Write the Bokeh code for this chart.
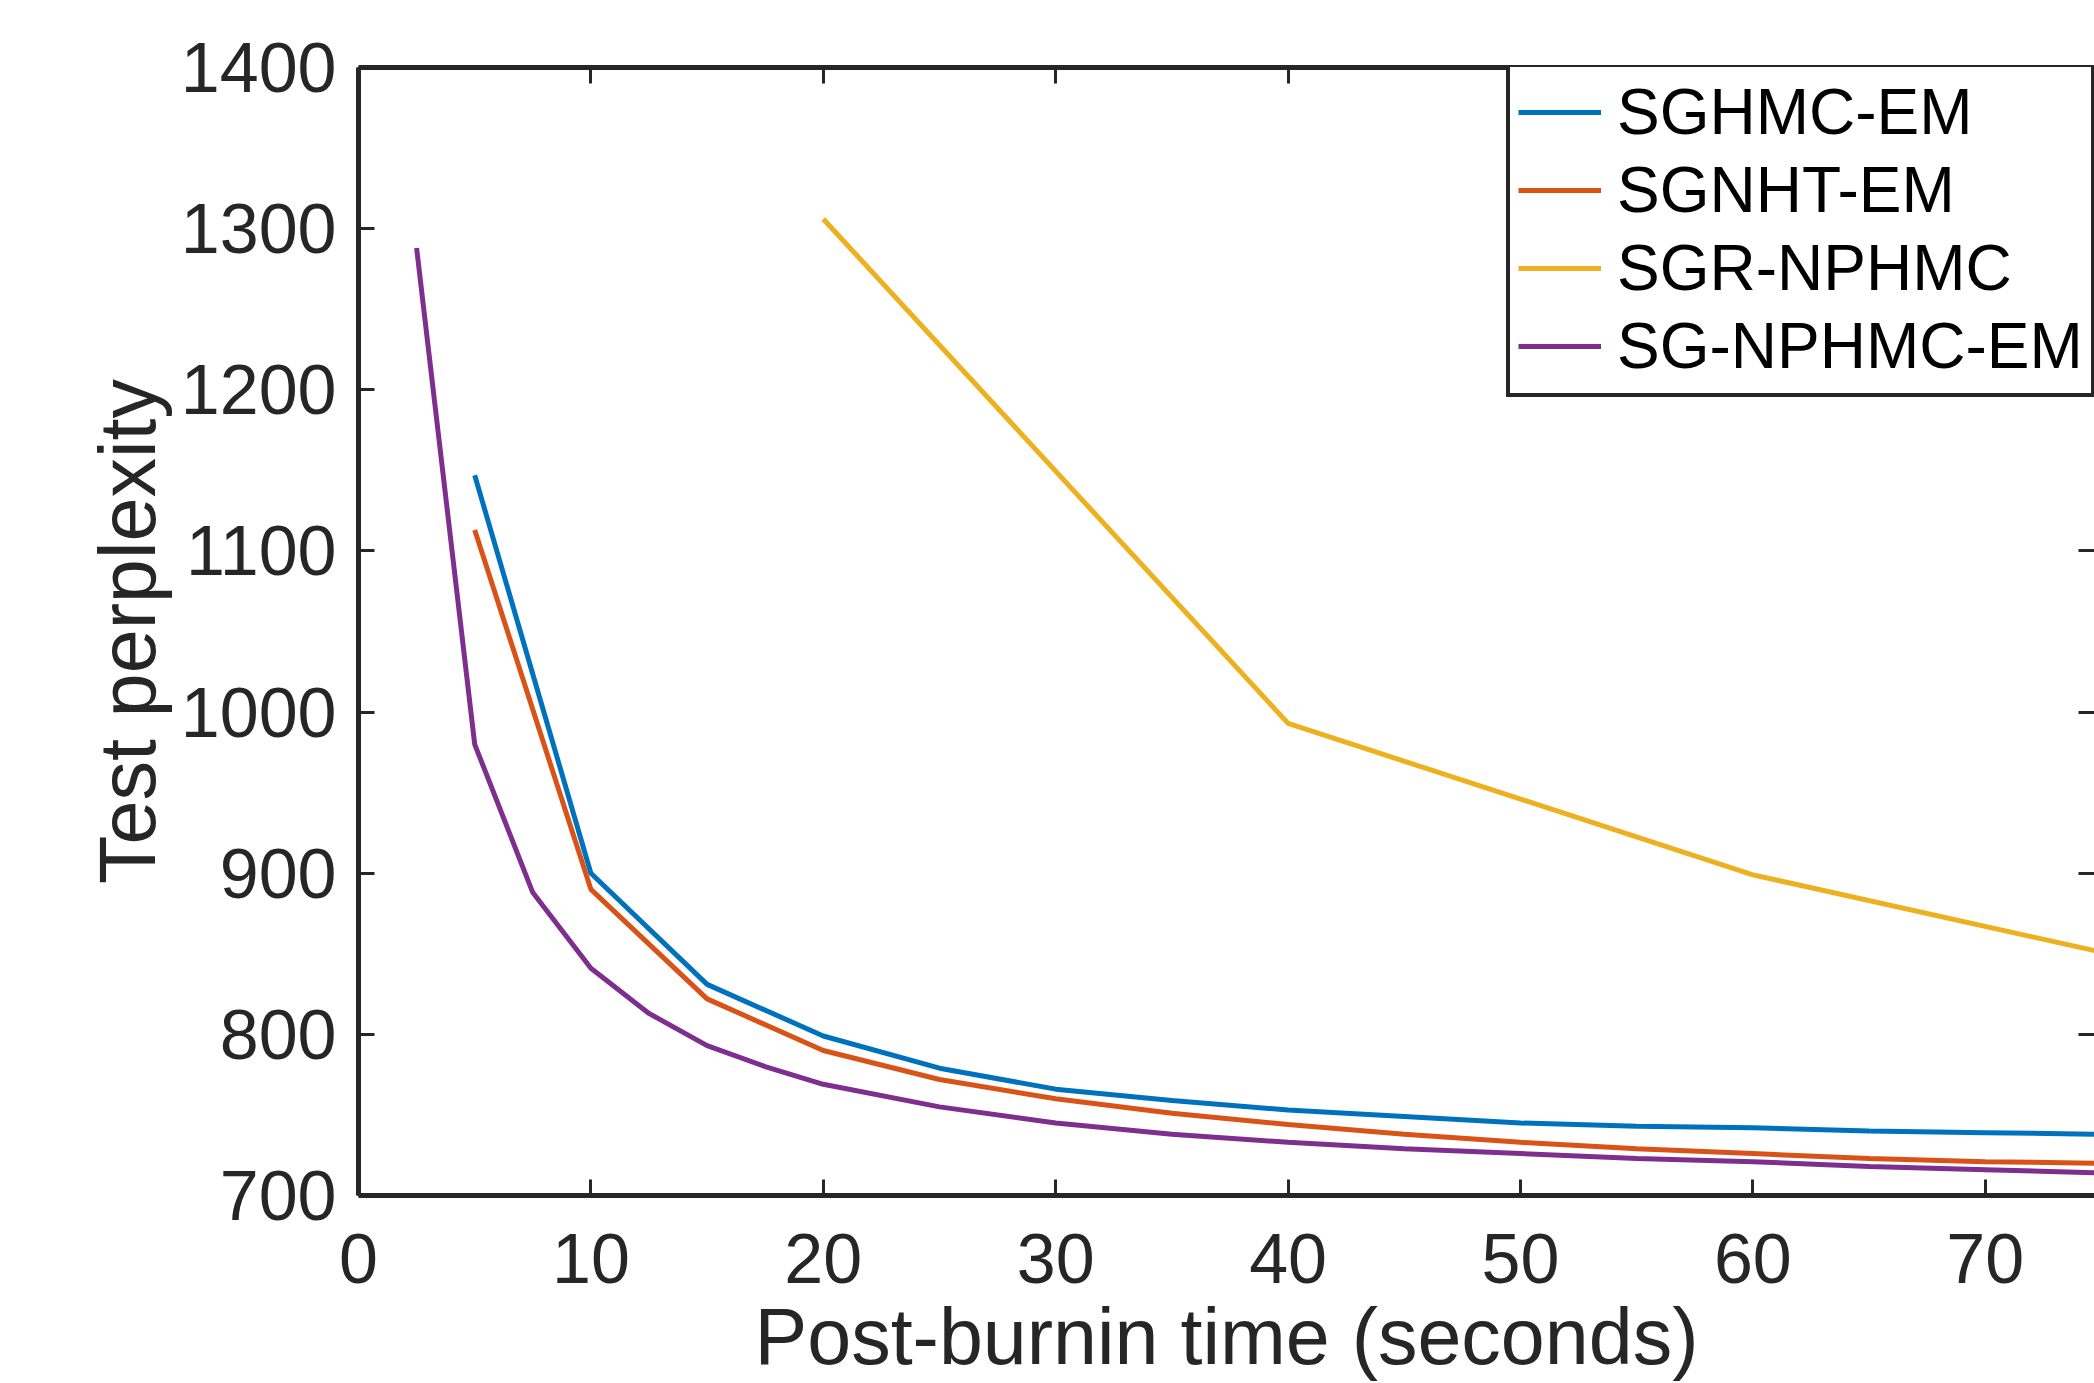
from bokeh.plotting import figure
from bokeh.models import LinearAxis, Range1d, FixedTicker, Legend, LegendItem
from bokeh.embed import file_html
from bokeh.resources import INLINE

# ---- data ----
time_sghmc = [5, 10, 15, 20, 25, 30, 35, 40, 45, 50, 55, 60, 65, 70, 75, 80]
ppl_sghmc = [1147, 900, 831, 799, 779, 766, 759, 753, 749, 745, 743, 742, 740, 739, 738, 737]

time_sgnht = [5, 10, 15, 20, 25, 30, 35, 40, 45, 50, 55, 60, 65, 70, 75, 80]
ppl_sgnht = [1113, 890, 822, 790, 772, 760, 751, 744, 738, 733, 729, 726, 723, 721, 720, 719]

time_sgr = [20, 40, 60, 80]
ppl_sgr = [1306, 993, 899, 835]

time_sgnp = [2.5, 5, 7.5, 10, 12.5, 15, 17.5, 20, 25, 30, 35, 40, 45, 50, 55, 60, 65, 70, 75, 80]
ppl_sgnp = [1288, 980, 888, 841, 813, 793, 780, 769, 755, 745, 738, 733, 729, 726, 723, 721, 718, 716, 714, 713]

series_names = ["SGHMC-EM", "SGNHT-EM", "SGR-NPHMC", "SG-NPHMC-EM"]
series_colors = ["#0072BD", "#D95319", "#EDB120", "#7E2F8E"]

x_ticks = [0, 10, 20, 30, 40, 50, 60, 70]
y_ticks = [700, 800, 900, 1000, 1100, 1200, 1300, 1400]
x_title = "Post-burnin time (seconds)"
y_title = "Test perplexity"

FONT = "Liberation Sans"
AX = "#262626"

p = figure(width=2094, height=1383, output_backend="svg", toolbar_location=None,
           x_range=Range1d(0, 74.7), y_range=Range1d(700, 1400),
           min_border_left=358, min_border_right=0, min_border_top=67, min_border_bottom=188,
           x_axis_label=x_title, y_axis_label=y_title)
p.outline_line_color = None
p.grid.visible = False
p.background_fill_color = "white"
p.border_fill_color = "white"

def style_axis(ax, ticks, labels=True):
    ax.ticker = FixedTicker(ticks=ticks)
    ax.axis_line_color = AX
    ax.axis_line_width = 5
    ax.major_tick_line_color = AX
    ax.major_tick_line_width = 3
    ax.major_tick_in = 16
    ax.major_tick_out = 0
    ax.minor_tick_line_color = None
    ax.major_label_text_font = FONT
    ax.major_label_text_color = AX
    if labels:
        ax.major_label_text_font_size = "70px"
    else:
        ax.major_label_text_font_size = "1px"
        ax.major_label_text_color = None
        ax.major_label_standoff = 0

for ax in p.xaxis:
    style_axis(ax, x_ticks)
    ax.major_label_standoff = 38
    ax.axis_label_standoff = 6
for ax in p.yaxis:
    style_axis(ax, y_ticks)
    ax.major_label_standoff = 22
    ax.axis_label_standoff = 6

for ax in list(p.xaxis) + list(p.yaxis):
    ax.axis_label_text_font = FONT
    ax.axis_label_text_font_size = "79px"
    ax.axis_label_text_font_style = "normal"
    ax.axis_label_text_color = AX

top = LinearAxis()
style_axis(top, x_ticks, labels=False)
p.add_layout(top, "above")

right = LinearAxis()
style_axis(right, y_ticks, labels=False)
right.axis_line_color = None
p.add_layout(right, "right")

r1 = p.line(time_sghmc, ppl_sghmc, line_color=series_colors[0], line_width=5)
r2 = p.line(time_sgnht, ppl_sgnht, line_color=series_colors[1], line_width=5)
r3 = p.line(time_sgr, ppl_sgr, line_color=series_colors[2], line_width=5)
r4 = p.line(time_sgnp, ppl_sgnp, line_color=series_colors[3], line_width=5)

legend = Legend(items=[LegendItem(label=n, renderers=[r]) for n, r in zip(series_names, [r1, r2, r3, r4])],
                location=(1148, 798))
legend.label_text_font = FONT
legend.label_text_font_size = "64px"
legend.label_text_color = "black"
legend.label_height = 78
legend.glyph_height = 78
legend.glyph_width = 83
legend.label_standoff = 16
legend.spacing = 0
legend.padding = 8
legend.border_line_color = AX
legend.border_line_width = 4
legend.border_line_alpha = 1.0
legend.background_fill_color = "white"
legend.background_fill_alpha = 1.0
p.add_layout(legend)

open("out.html", "w").write(file_html(p, INLINE))
